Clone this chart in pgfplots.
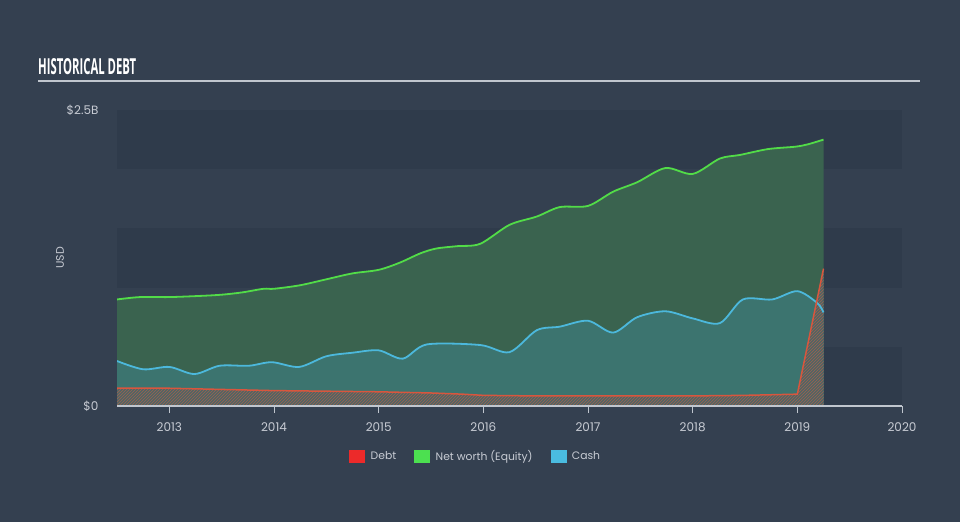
\documentclass[border=0pt]{standalone}
\usepackage{pgfplots}
\pgfplotsset{compat=1.18}
\usepackage{fontspec}
\setmainfont{Poppins}
\newfontfamily\titlefont{Open Sans}
\usetikzlibrary{patterns}
\definecolor{bg}{HTML}{344050}
\definecolor{band}{HTML}{2F3B4B}
\definecolor{greenfill}{HTML}{3A634F}
\definecolor{cashfill}{HTML}{3C746F}
\definecolor{hatchbase}{HTML}{4E6665}
\definecolor{hatchline}{HTML}{A0604F}
\definecolor{greenline}{HTML}{52DC48}
\definecolor{blueline}{HTML}{4CB8DC}
\definecolor{redline}{HTML}{D8563E}
\definecolor{axisline}{HTML}{C0C6CE}
\definecolor{labeltext}{HTML}{C8CCD4}
\definecolor{debtred}{HTML}{EC2A2A}
\definecolor{netgreen}{HTML}{4CE050}
\definecolor{cashblue}{HTML}{4ABCE0}

\pgfplotstableread{
x y
2012.5 0.90
2012.72 0.92
2013.0 0.92
2013.3 0.93
2013.5 0.94
2013.7 0.96
2013.9 0.99
2014.0 0.99
2014.25 1.02
2014.5 1.07
2014.75 1.12
2015.0 1.15
2015.2 1.21
2015.4 1.29
2015.55 1.33
2015.75 1.35
2015.97 1.37
2016.25 1.53
2016.51 1.60
2016.73 1.68
2017.0 1.69
2017.24 1.81
2017.47 1.89
2017.74 2.01
2018.0 1.96
2018.26 2.09
2018.45 2.12
2018.72 2.17
2018.98 2.19
2019.1 2.21
2019.25 2.25
}\networth

\pgfplotstableread{
x y
2012.5 0.38
2012.75 0.31
2013.0 0.33
2013.24 0.27
2013.48 0.34
2013.76 0.34
2013.98 0.37
2014.24 0.33
2014.5 0.42
2014.75 0.45
2015.0 0.47
2015.23 0.40
2015.46 0.52
2015.97 0.515
2016.25 0.455
2016.51 0.64
2016.73 0.67
2017.0 0.72
2017.24 0.62
2017.47 0.75
2017.74 0.80
2018.0 0.74
2018.26 0.70
2018.48 0.90
2018.76 0.90
2019.0 0.97
2019.19 0.87
2019.25 0.79
}\cash

\pgfplotstableread{
x y
2012.5 0.15
2013.0 0.15
2013.5 0.14
2014.0 0.13
2014.5 0.125
2015.0 0.12
2015.5 0.11
2015.8 0.10
2016.0 0.09
2016.5 0.085
2017.0 0.085
2017.5 0.085
2018.0 0.085
2018.5 0.09
2019.0 0.10
2019.25 1.16
}\debt

\begin{document}
\begin{tikzpicture}[x=1pt,y=1pt]
\fill[bg] (0,0) rectangle (960,522);
\node[anchor=south west, inner sep=0, text=white] at (38,447) {\resizebox{98pt}{16pt}{\titlefont\bfseries HISTORICAL DEBT}};
\draw[axisline, line width=1.5pt] (38,441) -- (920,441);
\begin{axis}[
  at={(117pt,116pt)}, anchor=south west,
  scale only axis, width=785pt, height=296pt,
  xmin=2012.5, xmax=2020, ymin=0, ymax=2.5,
  axis on top,
  axis x line*=bottom, axis y line*=left,
  y axis line style={draw=none},
  x axis line style={axisline, line width=1.2pt},
  xtick={2013,2014,2015,2016,2017,2018,2019,2020},
  xticklabels={2013,2014,2015,2016,2017,2018,2019,2020},
  ytick={0,2.5}, yticklabels={\$0,\$2.5B},
  xtick style={axisline, line width=1pt},
  ytick style={draw=none},
  major tick length=7pt,
  tick align=outside,
  x tick label style={font=\fontsize{12}{12}\selectfont, text=labeltext, yshift=-6pt},
  y tick label style={font=\fontsize{12}{12}\selectfont, text=labeltext, xshift=-8pt},
  /pgf/number format/assume math mode=true,
  ylabel={USD},
  ylabel style={at={(axis description cs:-0.0726,0.5)}, anchor=center, font=\fontsize{11}{11}\selectfont, text=labeltext},
  legend style={at={(0.457,-0.169)}, anchor=center, draw=none, fill=none, text=labeltext, font=\fontsize{10.8}{10.8}\selectfont, legend columns=3,
    /tikz/every even column/.append style={column sep=16pt},
    /tikz/every odd column/.append style={column sep=4pt}},
  legend cell align=left,
]
\fill[band] (axis cs:2012.5,0) rectangle (axis cs:2020,0.5);
\fill[band] (axis cs:2012.5,1) rectangle (axis cs:2020,1.5);
\fill[band] (axis cs:2012.5,2) rectangle (axis cs:2020,2.5);

\addplot[draw=none, fill=greenfill, smooth, tension=0.5, forget plot] table {\networth} \closedcycle;
\addplot[draw=none, fill=cashfill, smooth, tension=0.5, forget plot] table {\cash} \closedcycle;
\addplot[draw=none, fill=hatchbase, postaction={pattern=north east lines, pattern color=hatchline}, forget plot] table {\debt} \closedcycle;
\addplot[greenline, line width=1.8pt, smooth, tension=0.5, forget plot] table {\networth};
\addplot[blueline, line width=1.8pt, smooth, tension=0.5, forget plot] table {\cash};
\addplot[redline, line width=1.5pt, forget plot] table {\debt};

\addlegendimage{legend image code/.code={\fill[debtred] (0pt,-6pt) rectangle (15pt,6pt);}}
\addlegendentry{Debt}
\addlegendimage{legend image code/.code={\fill[netgreen] (0pt,-6pt) rectangle (15pt,6pt);}}
\addlegendentry{Net worth (Equity)}
\addlegendimage{legend image code/.code={\fill[cashblue] (0pt,-6pt) rectangle (15pt,6pt);}}
\addlegendentry{Cash}
\end{axis}
\end{tikzpicture}
\end{document}
